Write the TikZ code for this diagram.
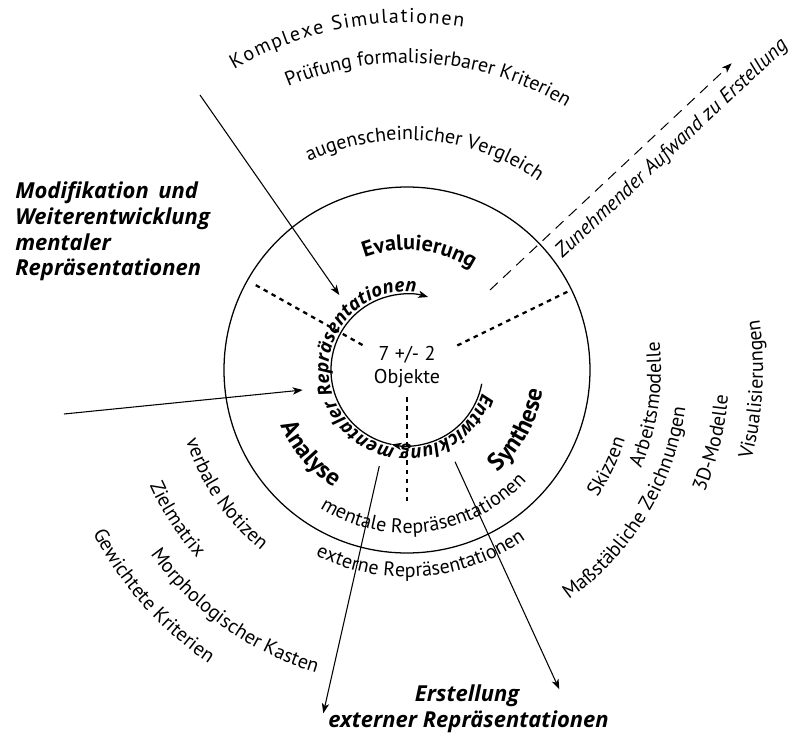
\documentclass[tikz,border=0pt]{standalone}
\usepackage{fontspec}
\setmainfont{PT Sans}
\newfontfamily\emphfam{Open Sans}
\usetikzlibrary{decorations.text,arrows.meta}

% font presets
\newcommand\regf{\fontsize{15}{18}\selectfont}
\newcommand\trackf{\fontsize{15}{18}\selectfont\kern1.2pt}
\newcommand\phasef{\fontsize{16.5}{20}\selectfont\bfseries}
\newcommand\phasebigf{\fontsize{18.5}{22}\selectfont\bfseries}
\newcommand\loopf{\emphfam\fontsize{14}{17}\selectfont\bfseries\itshape}

% text on a circle around the origin, centred on an angle
% #1 radius, #2 centre angle, #3 half span, #4 format, #5 text
\newcommand\cwtext[5]{%
  \path[decorate,decoration={text along path,text align=center,text={|#4|#5}}]
    ({#2+#3}:#1) arc[start angle={#2+#3},end angle={#2-#3},radius=#1];}
\newcommand\ccwtext[5]{%
  \path[decorate,decoration={text along path,text align=center,text={|#4|#5}}]
    ({#2-#3}:#1) arc[start angle={#2-#3},end angle={#2+#3},radius=#1];}

\begin{document}
\begin{tikzpicture}[x=0.75pt,y=0.75pt,
  ring/.style={line width=0.95pt},
  tip/.style={-{Stealth[length=7.5pt,width=5.5pt,inset=2pt]}},
  conn/.style={line width=0.8pt,tip},
  sector/.style={line width=1.7pt,dash pattern=on 3.4pt off 3.4pt},
  effort/.style={line width=0.75pt,dash pattern=on 8pt off 5.5pt,tip},
  heading/.style={font=\emphfam\fontsize{16.5}{19.3}\selectfont\bfseries\itshape,align=left,inner sep=0pt}]

\useasboundingbox (-407,-370) rectangle (387,370);

% outer circle: mental representations inside, external outside
\draw[ring] (0,0) circle[radius=183];

% inner development loop with two arrow heads
\draw[ring,tip] (-10.5:76) arc[start angle=-10.5,end angle=-101.7,radius=76];
\draw[ring,tip] (-101.7:76) arc[start angle=-101.7,end angle=-286.2,radius=76];

% sector boundaries
\coordinate (s1a) at (150.7:51);  \coordinate (s1b) at (150.7:176);
\coordinate (s2a) at (26:56);     \coordinate (s2b) at (26:180);
\coordinate (s3a) at (0,-27);     \coordinate (s3b) at (0,-134);
\draw[sector] (s1a) -- (s1b);
\draw[sector] (s2a) -- (s2b);
\draw[sector] (s3a) -- (s3b);

% centre
\node[align=center,font=\fontsize{15}{17.25}\selectfont,inner sep=0pt] (core) at (0,3) {7 +/- 2\\Objekte};

% phase names
\cwtext{120}{84}{80}{\phasef}{Evaluierung}
\ccwtext{138}{-139}{80}{\phasebigf}{Analyse}
\ccwtext{137}{-28.5}{80}{\phasebigf}{Synthese}

% loop label
\cwtext{78.5}{-147}{160}{\loopf}{Entwicklung mentaler Repräsentationen}

% evaluation methods
\cwtext{347}{100.4}{60}{\trackf}{Komplexe Simulationen}
\cwtext{307}{85.8}{60}{\regf}{Prüfung formalisierbarer Kriterien}
\cwtext{230}{85.2}{70}{\regf}{augenscheinlicher Vergleich}

% representation layers
\ccwtext{163}{-82.5}{80}{\regf}{mentale Repräsentationen}
\ccwtext{207}{-85.6}{70}{\regf}{externe Repräsentationen}

% analysis methods
\ccwtext{232}{-145.6}{50}{\regf}{verbale Notizen}
\ccwtext{282}{-147}{50}{\regf}{Zielmatrix}
\ccwtext{316}{-125.5}{50}{\regf}{Morphologischer Kasten}
\ccwtext{354}{-138.3}{50}{\regf}{Gewichtete Kriterien}

% synthesis media
\ccwtext{229}{-25.7}{50}{\regf}{Skizzen}
\ccwtext{254}{-8.2}{50}{\regf}{Arbeitsmodelle}
\ccwtext{281}{-31.3}{60}{\regf}{Maßstäbliche Zeichnungen}
\ccwtext{322}{-13.5}{50}{\regf}{3D-Modelle}
\ccwtext{356}{-3.2}{50}{\regf}{Visualisierungen}

% outer headings (anchored on the baseline of their last line)
\node[heading,anchor=base west] (modif) at (-392,94)
  {Modifikation \,und\\Weiterentwicklung\\mentaler\\Repräsentationen};
\node[heading,anchor=base west] (extern) at (-79,-357)
  {\hspace*{65pt}Erstellung\\externer Repräsentationen};

% connectors
\coordinate (aIn) at (-207,275);   \coordinate (aInTip) at (-67.7,75);
\coordinate (bIn) at (-343,-44);   \coordinate (bInTip) at (-104.3,-20);
\coordinate (cOut) at (-27.7,-96); \coordinate (cOutTip) at (-83.7,-343.3);
\coordinate (dOut) at (48,-91.7);  \coordinate (dOutTip) at (152.3,-319.3);
\draw[conn] (aIn) -- (aInTip);
\draw[conn] (bIn) -- (bInTip);
\draw[conn] (cOut) -- (cOutTip);
\draw[conn] (dOut) -- (dOutTip);

% effort axis
\coordinate (eStart) at (83,80);   \coordinate (eEnd) at (324.7,306.7);
\draw[effort] (eStart) -- (eEnd);
\node[rotate=43.2,anchor=base west,inner sep=0pt,font=\fontsize{15.5}{19}\selectfont\itshape] (effortlbl)
  at (155.5,111) {Zunehmender Aufwand zu Erstellung};

\end{tikzpicture}
\end{document}
